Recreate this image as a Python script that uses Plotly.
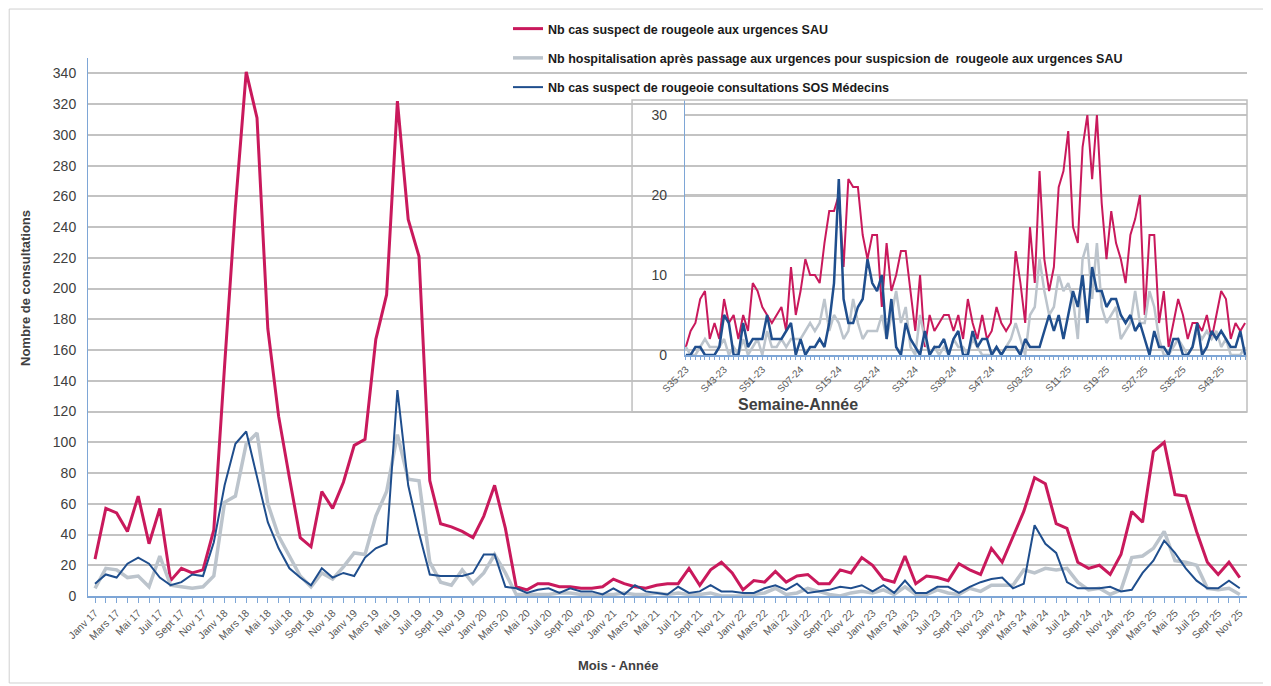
"""
Surveillance rougeole : passages aux urgences (SAU) et consultations SOS Médecins
"""

import plotly.graph_objects as go

# ---- données mensuelles (janv 2017 -> nov 2025) ----
MOIS_TICKS = ['Janv', 'Mars', 'Mai', 'Juil', 'Sept', 'Nov']
ANNEES = ['17', '18', '19', '20', '21', '22', '23', '24', '25']

sau_cas = [24, 57, 54, 42, 65, 34, 57, 10, 18, 15, 17, 43,
           150, 253, 341, 311, 174, 117, 77, 38, 32, 68, 57, 74,
           98, 102, 167, 196, 322, 245, 221, 75, 47, 45, 42, 38,
           52, 72, 44, 6, 4, 8, 8, 6, 6, 5, 5, 6,
           11, 8, 6, 5, 7, 8, 8, 18, 7, 17, 22, 15,
           4, 10, 9, 16, 9, 13, 14, 8, 8, 17, 15, 25,
           20, 11, 9, 26, 8, 13, 12, 10, 21, 17, 14, 31,
           22, 39, 55, 77, 73, 47, 44, 22, 18, 20, 14, 27,
           55, 48, 94, 100, 66, 65, 42, 22, 14, 22, 12]

sau_hospit = [5, 18, 17, 12, 13, 6, 26, 7, 6, 5, 6, 13,
              61, 65, 99, 106, 60, 39, 26, 13, 6, 15, 11, 19,
              28, 27, 52, 68, 105, 76, 75, 22, 9, 7, 17, 8,
              15, 27, 15, 1, 1, 1, 1, 2, 2, 1, 1, 1,
              1, 2, 1, 1, 2, 1, 2, 1, 1, 2, 0, 0,
              0, 1, 2, 5, 1, 2, 5, 3, 1, 0, 2, 3,
              2, 4, 1, 6, 1, 1, 4, 2, 1, 5, 3, 7,
              7, 7, 17, 15, 18, 17, 18, 9, 4, 5, 1, 4,
              25, 26, 31, 42, 23, 22, 20, 5, 4, 5, 1]

sos_cas = [8, 14, 12, 21, 25, 21, 12, 7, 9, 14, 13, 35,
           72, 99, 107, 77, 48, 31, 18, 12, 7, 18, 12, 15,
           13, 25, 31, 34, 134, 72, 41, 14, 13, 13, 13, 15,
           27, 27, 6, 5, 2, 4, 5, 2, 5, 3, 3, 1,
           5, 1, 7, 3, 2, 1, 6, 2, 3, 7, 3, 3,
           2, 2, 5, 7, 4, 8, 2, 3, 4, 6, 5, 7,
           3, 7, 2, 10, 2, 2, 6, 6, 2, 6, 9, 11,
           12, 5, 8, 46, 34, 28, 9, 5, 5, 5, 6, 3,
           4, 15, 23, 36, 28, 18, 10, 5, 5, 10, 5]

# ---- données hebdomadaires (S35-23 -> S48-25) ----
SEMAINES_TICKS = ['S35-23', 'S43-23', 'S51-23', 'S07-24', 'S15-24', 'S23-24',
                  'S31-24', 'S39-24', 'S47-24', 'S03-25', 'S11-25', 'S19-25',
                  'S27-25', 'S35-25', 'S43-25']

sau_cas_sem = [1, 3, 4, 7, 8, 2, 4, 2, 7, 4, 5, 2, 5, 3, 9, 8, 6, 5, 4, 5,
               6, 3, 11, 5, 8, 12, 10, 10, 9, 14, 18, 18, 20, 11, 22, 21, 21, 15, 12, 15,
               15, 6, 14, 8, 10, 13, 13, 8, 3, 10, 1, 5, 3, 4, 5, 5, 3, 5, 2, 7,
               4, 2, 5, 2, 3, 6, 4, 3, 4, 13, 9, 4, 16, 9, 23, 12, 8, 11, 21, 23,
               28, 16, 14, 26, 30, 22, 30, 19, 12, 18, 14, 12, 9, 15, 17, 20, 5, 15, 15, 4,
               8, 1, 4, 7, 5, 2, 4, 4, 3, 5, 2, 5, 8, 7, 2, 4, 3, 4]

sau_hospit_sem = [1, 0, 0, 1, 2, 1, 1, 1, 2, 0, 1, 0, 2, 0, 1, 2, 0, 3, 1, 1,
                  2, 1, 2, 2, 2, 3, 4, 3, 4, 7, 3, 5, 4, 2, 3, 7, 4, 2, 3, 3,
                  3, 5, 2, 5, 8, 4, 6, 1, 0, 5, 2, 0, 1, 0, 1, 0, 2, 1, 1, 0,
                  2, 1, 0, 0, 0, 1, 0, 1, 2, 4, 2, 0, 5, 6, 12, 8, 5, 6, 10, 8,
                  9, 7, 2, 12, 14, 7, 14, 6, 4, 5, 6, 2, 3, 4, 8, 4, 4, 8, 6, 2,
                  0, 0, 1, 2, 1, 0, 1, 3, 2, 3, 2, 3, 1, 2, 0, 0, 0, 1]

sos_cas_sem = [0, 0, 1, 1, 0, 0, 0, 1, 5, 4, 0, 0, 4, 1, 2, 2, 2, 5, 2, 2,
               2, 3, 4, 0, 2, 0, 1, 1, 2, 1, 4, 9, 22, 7, 4, 4, 6, 7, 12, 9,
               8, 10, 2, 7, 1, 0, 4, 2, 1, 0, 3, 0, 1, 1, 2, 0, 2, 3, 0, 0,
               3, 1, 2, 2, 0, 1, 0, 1, 1, 1, 0, 2, 1, 1, 1, 3, 5, 3, 5, 2,
               5, 8, 6, 10, 4, 11, 8, 8, 6, 7, 7, 5, 4, 5, 3, 4, 2, 0, 3, 1,
               1, 0, 2, 2, 0, 0, 1, 4, 0, 1, 3, 2, 3, 2, 1, 1, 3, 0]

ROUGE = '#C9195C'
GRIS = '#BCC4CC'
BLEU = '#1F4E8D'
AXE = '#7EA6D6'
GRILLE = '#C3C3C3'
POLICE = 'Liberation Sans'

# la page HTML ajoute 8 px de marge autour de la figure
W, H = 1263, 678


def create_rougeole_chart():
    """
    Courbe mensuelle 2017-2025 avec un encart hebdomadaire 2023-2025
    """
    fig = go.Figure()

    mois = list(range(len(sau_cas)))
    series = [
        (sau_cas, 'Nb cas suspect de rougeole aux urgences SAU', ROUGE, 3),
        (sau_hospit, 'Nb hospitalisation après passage aux urgences pour suspicsion de  rougeole aux urgences SAU', GRIS, 3.5),
        (sos_cas, 'Nb cas suspect de rougeoie consultations SOS Médecins', BLEU, 2),
    ]
    for i, (vals, nom, couleur, larg) in enumerate(series):
        fig.add_trace(go.Scatter(
            x=mois, y=vals, mode='lines', name=nom,
            legendgroup=f'g{i}',
            line=dict(color=couleur, width=larg),
        ))

    # encart hebdomadaire
    semaines = list(range(len(sau_cas_sem)))
    for vals, couleur, larg in [(sau_cas_sem, ROUGE, 2),
                                (sau_hospit_sem, GRIS, 2.5),
                                (sos_cas_sem, BLEU, 2.5)]:
        fig.add_trace(go.Scatter(
            x=semaines, y=vals, mode='lines', showlegend=False,
            line=dict(color=couleur, width=larg),
            xaxis='x2', yaxis='y2',
        ))

    tick_mois = list(range(0, len(sau_cas), 2))
    labels_mois = [f'{m} {a}' for a in ANNEES for m in MOIS_TICKS][:len(tick_mois)]

    fig.update_layout(
        width=W, height=H,
        margin=dict(l=80, r=24, t=50, b=90, autoexpand=False),
        paper_bgcolor='white',
        plot_bgcolor='rgba(0,0,0,0)',
        font=dict(family=POLICE, color='#404040'),
        showlegend=True,
        legend=dict(
            xref='container', yref='container',
            x=500 / W, y=1 - 6 / H,
            xanchor='left', yanchor='top',
            font=dict(size=12.5, color='#1a1a1a', weight='bold'),
            tracegroupgap=10,
            bgcolor='rgba(0,0,0,0)',
        ),
        xaxis=dict(
            range=[-0.65, 106.67],
            tickmode='array', tickvals=tick_mois, ticktext=labels_mois,
            tickangle=-45, tickfont=dict(size=10.5, color='#595959'),
            ticks='outside', ticklen=5, tickcolor=AXE,
            minor=dict(dtick=1, ticks='outside', ticklen=5, tickcolor=AXE),
            showline=True, linecolor=AXE, linewidth=1.5,
            showgrid=False, zeroline=False,
        ),
        yaxis=dict(
            range=[0, 350],
            tickmode='array', tickvals=list(range(0, 341, 20)),
            tickfont=dict(size=14, color='#404040'),
            ticklabelstandoff=8,
            showline=True, linecolor=AXE, linewidth=1,
            showgrid=True, gridcolor=GRILLE, gridwidth=1.5,
            zeroline=False, ticks='',
        ),
        xaxis2=dict(
            domain=[0.515, 1.0], anchor='y2',
            range=[-0.2, 117.4],
            tickmode='array', tickvals=list(range(0, 113, 8)), ticktext=SEMAINES_TICKS,
            tickangle=-45, tickfont=dict(size=10, color='#595959'),
            ticks='outside', ticklen=3, tickcolor=AXE,
            minor=dict(dtick=1, ticks='outside', ticklen=3, tickcolor=AXE),
            showline=True, linecolor=AXE, linewidth=1.5,
            showgrid=False, zeroline=False,
        ),
        yaxis2=dict(
            domain=[0.448, 0.922], anchor='x2',
            range=[0, 31.9],
            tickmode='array', tickvals=[0, 10, 20, 30],
            tickfont=dict(size=14, color='#404040'),
            ticklabelstandoff=14,
            showline=True, linecolor=AXE, linewidth=1,
            showgrid=True, gridcolor=GRILLE, gridwidth=1.5,
            zeroline=False, ticks='',
        ),
        shapes=[
            # cadre de l'encart
            dict(type='rect', xref='paper', yref='paper',
                 x0=0.4694, x1=1.0, y0=0.342, y1=0.922,
                 line=dict(color='#BFBFBF', width=1.5)),
            # cadre général
            dict(type='rect', xref='paper', yref='paper',
                 x0=-0.068, x1=1.0164, y0=-0.1617, y1=1.091,
                 line=dict(color='#D0D0D0', width=1)),
        ],
        annotations=[
            dict(text='<b>Nombre de consultations</b>', textangle=-90,
                 xref='paper', yref='paper',
                 x=(25 - 88) / 1159, y=(596 - 288) / 538,
                 xanchor='center', yanchor='middle',
                 showarrow=False, font=dict(size=13, color='#404040')),
            dict(text='<b>Mois - Année</b>',
                 xref='paper', yref='paper',
                 x=(618 - 88) / 1159, y=(596 - 665) / 538,
                 xanchor='center', yanchor='middle',
                 showarrow=False, font=dict(size=13, color='#404040')),
            dict(text='<b>Semaine-Année</b>',
                 xref='paper', yref='paper',
                 x=(798 - 88) / 1159, y=(596 - 404) / 538,
                 xanchor='center', yanchor='middle',
                 showarrow=False, font=dict(size=16, color='#404040')),
        ],
    )

    return fig


fig = create_rougeole_chart()
fig.write_html("out.html")
